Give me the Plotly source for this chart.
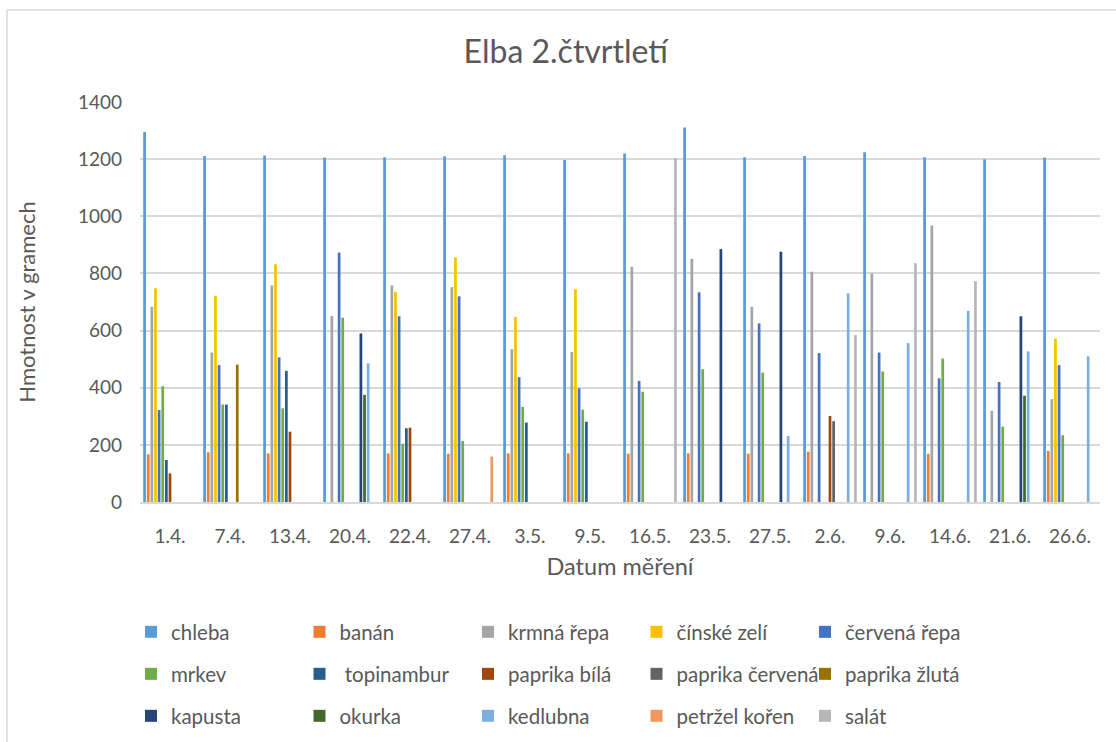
import plotly.graph_objects as go

dates = ["1.4.", "7.4.", "13.4.", "20.4.", "22.4.", "27.4.", "3.5.", "9.5.",
         "16.5.", "23.5.", "27.5.", "2.6.", "9.6.", "14.6.", "21.6.", "26.6."]
N = None
chleba = [1295, 1211, 1213, 1206, 1207, 1210, 1214, 1197, 1220, 1311, 1207, 1211, 1224, 1207, 1200, 1206]
banan = [167, 174, 170, N, 170, 169, 170, 170, 169, 170, 169, 176, N, 169, N, 179]
krmna_repa = [683, 523, 758, 651, 758, 752, 535, 525, 823, 851, 683, 806, 800, 968, 319, 360]
cinske_zeli = [748, 722, 832, N, 736, 856, 648, 745, N, N, N, N, N, N, N, 572]
cervena_repa = [322, 479, 506, 873, 650, 720, 437, 398, 424, 734, 625, 521, 523, 433, 420, 479]
mrkev = [405, 341, 328, 645, 204, 214, 333, 323, 386, 465, 453, N, 457, 502, 264, 234]
topinambur = [147, 341, 459, N, 258, N, 278, 281, N, N, N, N, N, N, N, N]
paprika_bila = [100, N, 246, N, 260, N, N, N, N, N, N, 301, N, N, N, N]
paprika_cervena = [N, N, N, N, N, N, N, N, N, N, N, 283, N, N, N, N]
paprika_zluta = [N, 481, N, N, N, N, N, N, N, N, N, N, N, N, N, N]
kapusta = [N, N, N, 590, N, N, N, N, N, 885, 876, N, N, N, 650, N]
okurka = [N, N, N, 375, N, N, N, N, N, N, N, N, N, N, 372, N]
kedlubna = [N, N, N, 485, N, N, N, N, N, N, 231, 730, 556, 669, 527, 510]
petrzel_koren = [N, N, N, N, N, 159, N, N, N, N, N, N, N, N, N, N]
salat = [N, N, N, N, N, N, N, N, 1204, N, N, 584, 836, 773, N, N]

series = [
    ("chleba", chleba, "#5B9BD5"),
    ("banán", banan, "#ED7D31"),
    ("krmná řepa", krmna_repa, "#A5A5A5"),
    ("čínské zelí", cinske_zeli, "#FFC000"),
    ("červená řepa", cervena_repa, "#4472C4"),
    ("mrkev", mrkev, "#70AD47"),
    (" topinambur", topinambur, "#255E91"),
    ("paprika bílá", paprika_bila, "#9E480E"),
    ("paprika červená", paprika_cervena, "#636363"),
    ("paprika žlutá", paprika_zluta, "#997300"),
    ("kapusta", kapusta, "#264478"),
    ("okurka", okurka, "#43682B"),
    ("kedlubna", kedlubna, "#7CAFDD"),
    ("petržel kořen", petrzel_koren, "#F1975A"),
    ("salát", salat, "#B7B7B7"),
]

FONT = "Lato"
TXT = "#595959"

fig = go.Figure()
legend_ids = ["legend", "legend2", "legend3"]
for i, (name, vals, col) in enumerate(series):
    fig.add_trace(go.Bar(
        x=dates, y=vals, name=name, marker=dict(color=col, line=dict(width=0)),
        legend=legend_ids[i // 5],
    ))

W, H = 1116, 742
L, R, T, B = 140, 16, 102, 240

leg_common = dict(orientation="h", xref="container", yref="container",
                  xanchor="left", yanchor="middle",
                  entrywidth=123.5, entrywidthmode="pixels",
                  font=dict(family=FONT, size=20.5, color=TXT),
                  bgcolor="rgba(0,0,0,0)", itemclick=False)
rows_y = [632, 674, 716]
LEGX = 131 / W

fig.update_layout(
    width=W, height=H,
    margin=dict(l=L, r=R, t=T, b=B),
    paper_bgcolor="white", plot_bgcolor="white",
    barmode="group", bargap=0.092, bargroupgap=0.25,
    title=dict(text="Elba 2.čtvrtletí", x=0.507, xanchor="center", y=1 - 52 / H, yanchor="middle",
               font=dict(family=FONT, size=32, color=TXT)),
    font=dict(family=FONT, color=TXT),
    legend=dict(leg_common, x=LEGX, y=1 - rows_y[0] / H),
    legend2=dict(leg_common, x=LEGX, y=1 - rows_y[1] / H),
    legend3=dict(leg_common, x=LEGX, y=1 - rows_y[2] / H),
    xaxis=dict(
        showline=True, linecolor="#D9D9D9", linewidth=1.5, ticks="",
        tickfont=dict(family=FONT, size=19, color=TXT), ticklabelstandoff=16,
        title=dict(text="Datum měření", font=dict(family=FONT, size=23.5, color=TXT), standoff=13),
        showgrid=False,
    ),
    yaxis=dict(
        range=[0, 1400], dtick=200, showgrid=True, gridcolor="#D9D9D9", gridwidth=1.5,
        zeroline=False, showline=False, ticks="",
        tickfont=dict(family=FONT, size=19, color=TXT), ticklabelstandoff=17,
        title=dict(text="Hmotnost v gramech", font=dict(family=FONT, size=22, color=TXT), standoff=36),
    ),
    shapes=[
        dict(type="line", xref="paper", yref="paper", x0=(7 - L) / 960, x1=(7 - L) / 960,
             y0=(502 - 10) / 400, y1=(502 - 760) / 400, line=dict(color="#D9D9D9", width=1.5)),
        dict(type="line", xref="paper", yref="paper", x0=(7 - L) / 960, x1=(1130 - L) / 960,
             y0=(502 - 10) / 400, y1=(502 - 10) / 400, line=dict(color="#D9D9D9", width=1.5)),
    ],
)

fig.write_html("out.html", config={"displayModeBar": False},
               post_script="document.body.style.margin='0';document.body.style.overflow='hidden';")
